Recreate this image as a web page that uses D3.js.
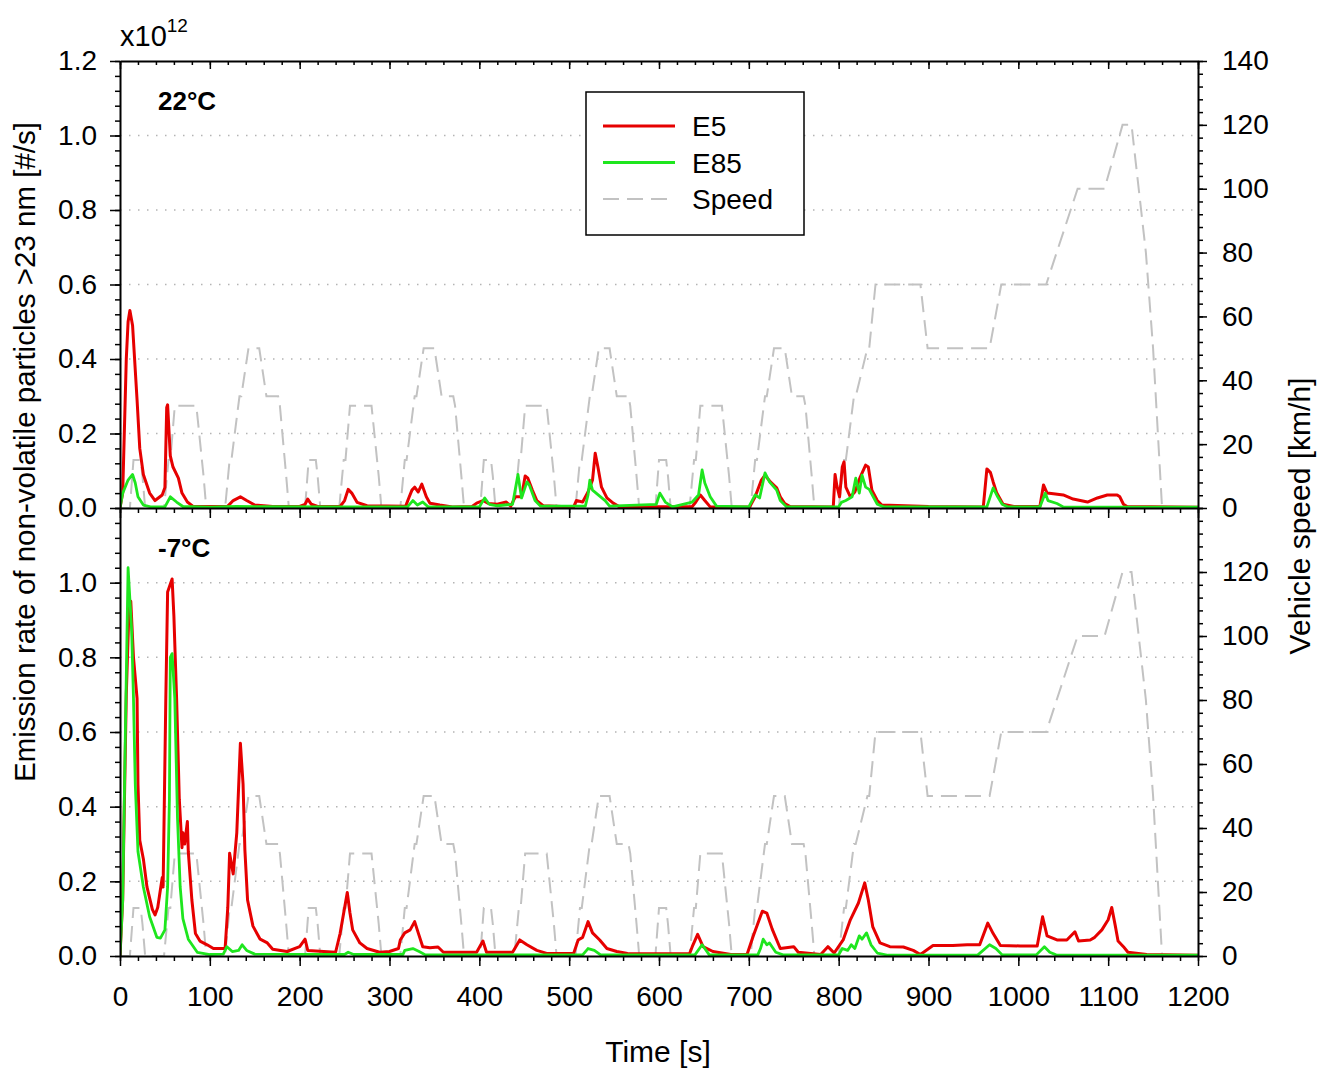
<!DOCTYPE html>
<html>
<head>
<meta charset="utf-8">
<script src="https://cdn.jsdelivr.net/npm/d3@7"></script>
<style>
	body { margin: 0; background: #fff; }
	text { font-family: "Liberation Sans", Arial, sans-serif; }
</style>
</head>
<body>
<div id="chart"></div>
<script>

// axis ticks
let timeTicks = [0, 100, 200, 300, 400, 500, 600, 700, 800, 900, 1000, 1100, 1200];
let rateTicksWarm = [0, 0.2, 0.4, 0.6, 0.8, 1.0, 1.2];
let rateTicksCold = [0, 0.2, 0.4, 0.6, 0.8, 1.0];
let speedTicksWarm = [0, 20, 40, 60, 80, 100, 120, 140];
let speedTicksCold = [0, 20, 40, 60, 80, 100, 120];
let gridTicks = [0.2, 0.4, 0.6, 0.8, 1.0];

// vehicle speed [km/h] over time [s]
let speedProfile = [
	[0, 0], [11, 0], [15, 15], [23, 15], [25, 10], [28, 0], [49, 0], [54, 15], [56, 15], [61, 32], [85, 32], [93, 10], [96, 0],
	[117, 0], [122, 15], [124, 15], [133, 35], [135, 35], [143, 50], [155, 50], [163, 35], [176, 35], [178, 32], [185, 10], [188, 0],
	[206, 0], [210, 15], [218, 15], [220, 10], [223, 0], [244, 0], [249, 15], [251, 15], [256, 32], [280, 32], [288, 10], [291, 0],
	[312, 0], [317, 15], [319, 15], [328, 35], [330, 35], [338, 50], [350, 50], [358, 35], [371, 35], [373, 32], [380, 10], [383, 0],
	[401, 0], [405, 15], [413, 15], [415, 10], [418, 0], [439, 0], [444, 15], [446, 15], [451, 32], [475, 32], [483, 10], [486, 0],
	[507, 0], [512, 15], [514, 15], [523, 35], [525, 35], [533, 50], [545, 50], [553, 35], [566, 35], [568, 32], [575, 10], [578, 0],
	[596, 0], [600, 15], [608, 15], [610, 10], [613, 0], [634, 0], [639, 15], [641, 15], [646, 32], [670, 32], [678, 10], [681, 0],
	[702, 0], [707, 15], [709, 15], [718, 35], [720, 35], [728, 50], [740, 50], [748, 35], [761, 35], [763, 32], [770, 10], [773, 0],
	[800, 0], [806, 15], [808, 15], [817, 35], [819, 35], [832, 50], [834, 50], [841, 70], [891, 70], [899, 50], [968, 50], [981, 70],
	[1031, 70], [1066, 100], [1096, 100], [1116, 120], [1126, 120], [1142, 80], [1150, 50], [1160, 0], [1180, 0]
];

// emission rate [1e12 #/s], 22°C
let e5Warm = [
	[0, 0], [3, 0.04], [7, 0.40], [9, 0.50], [11, 0.53], [14, 0.49], [19, 0.29], [22, 0.16], [26, 0.09], [33, 0.04], [39, 0.02],
	[47, 0.035], [50, 0.055], [52, 0.27], [53, 0.277], [56, 0.14], [59, 0.11], [65, 0.08], [69, 0.04], [75, 0.016], [81, 0.005],
	[100, 0.004], [120, 0.005], [126, 0.02], [134, 0.03], [141, 0.02], [150, 0.008], [170, 0.004], [200, 0.004], [206, 0.01],
	[209, 0.024], [213, 0.01], [220, 0.004], [245, 0.004], [250, 0.02], [254, 0.05], [258, 0.04], [264, 0.015], [275, 0.006],
	[318, 0.005], [322, 0.03], [325, 0.048], [328, 0.056], [332, 0.043], [336, 0.064], [341, 0.03], [345, 0.013], [356, 0.008],
	[370, 0.003], [392, 0.004], [397, 0.013], [404, 0.02], [410, 0.012], [420, 0.01], [430, 0.016], [435, 0.005], [440, 0.03],
	[447, 0.03], [451, 0.086], [454, 0.08], [459, 0.048], [464, 0.02], [471, 0.006], [505, 0.003], [508, 0.02], [515, 0.016],
	[521, 0.043], [526, 0.075], [529, 0.147], [532, 0.11], [536, 0.056], [542, 0.027], [549, 0.013], [556, 0.003], [637, 0.004],
	[641, 0.016], [646, 0.035], [651, 0.02], [657, 0.003], [701, 0.003], [707, 0.03], [714, 0.075], [718, 0.088], [724, 0.07],
	[731, 0.054], [735, 0.03], [740, 0.012], [746, 0.004], [794, 0.003], [796, 0.09], [798, 0.06], [801, 0.03], [804, 0.11],
	[806, 0.124], [808, 0.056], [813, 0.03], [818, 0.043], [824, 0.083], [830, 0.115], [833, 0.11], [837, 0.048], [843, 0.02],
	[848, 0.008], [900, 0.004], [961, 0.003], [965, 0.105], [969, 0.095], [972, 0.07], [976, 0.04], [983, 0.01], [995, 0.004],
	[1024, 0.004], [1028, 0.062], [1032, 0.04], [1039, 0.038], [1050, 0.035], [1061, 0.024], [1077, 0.016], [1088, 0.027],
	[1099, 0.035], [1110, 0.035], [1113, 0.03], [1117, 0.01], [1121, 0.004], [1200, 0.002]
];

let e85Warm = [
	[0, 0], [3, 0.04], [9, 0.075], [14, 0.09], [17, 0.067], [20, 0.03], [26, 0.008], [34, 0.003], [50, 0.003], [56, 0.03],
	[63, 0.016], [70, 0.004], [100, 0.002], [130, 0.004], [250, 0.003], [320, 0.003], [326, 0.02], [331, 0.008], [337, 0.016],
	[343, 0.003], [400, 0.003], [406, 0.027], [411, 0.01], [420, 0.006], [437, 0.01], [443, 0.09], [447, 0.027], [453, 0.07],
	[456, 0.06], [462, 0.02], [468, 0.005], [518, 0.005], [521, 0.035], [523, 0.075], [526, 0.048], [534, 0.032], [540, 0.02],
	[545, 0.005], [597, 0.01], [601, 0.04], [607, 0.016], [615, 0.003], [637, 0.016], [644, 0.035], [648, 0.102], [651, 0.067],
	[657, 0.03], [664, 0.005], [700, 0.003], [707, 0.035], [712, 0.027], [718, 0.094], [723, 0.07], [731, 0.048], [735, 0.02],
	[742, 0.003], [800, 0.003], [803, 0.015], [808, 0.02], [815, 0.03], [819, 0.08], [823, 0.04], [826, 0.088], [830, 0.056],
	[834, 0.05], [843, 0.01], [850, 0.003], [965, 0.003], [972, 0.054], [977, 0.03], [982, 0.01], [988, 0.003], [1024, 0.003],
	[1030, 0.04], [1033, 0.02], [1043, 0.012], [1050, 0.003], [1200, 0.002]
];

// emission rate [1e12 #/s], -7°C
let e5Cold = [
	[0, 0], [3, 0.15], [7, 0.70], [10, 0.93], [12, 0.95], [15, 0.80], [19, 0.69], [20, 0.46], [22, 0.31], [26, 0.26], [30, 0.185],
	[36, 0.125], [39, 0.11], [42, 0.13], [45, 0.178], [47, 0.21], [48, 0.185], [51, 0.69], [53, 0.975], [58, 1.01], [60, 0.91],
	[63, 0.69], [66, 0.42], [69, 0.29], [70, 0.33], [72, 0.30], [75, 0.36], [76, 0.28], [80, 0.15], [84, 0.06], [89, 0.04],
	[97, 0.03], [104, 0.02], [117, 0.02], [120, 0.13], [122, 0.275], [126, 0.22], [130, 0.33], [134, 0.57], [137, 0.46],
	[139, 0.285], [142, 0.15], [148, 0.08], [156, 0.045], [164, 0.035], [170, 0.018], [186, 0.012], [200, 0.025], [206, 0.045],
	[209, 0.015], [240, 0.01], [245, 0.06], [253, 0.17], [256, 0.115], [259, 0.07], [267, 0.035], [275, 0.02], [289, 0.01],
	[300, 0.012], [310, 0.02], [312, 0.043], [317, 0.062], [323, 0.07], [328, 0.092], [332, 0.062], [337, 0.025], [345, 0.022],
	[354, 0.024], [360, 0.01], [397, 0.01], [404, 0.04], [408, 0.01], [437, 0.01], [445, 0.043], [453, 0.03], [464, 0.015],
	[475, 0.007], [505, 0.007], [510, 0.043], [515, 0.05], [521, 0.092], [526, 0.062], [534, 0.043], [542, 0.02], [553, 0.012],
	[565, 0.007], [634, 0.006], [637, 0.025], [643, 0.058], [649, 0.025], [660, 0.012], [680, 0.004], [698, 0.004], [705, 0.054],
	[715, 0.12], [720, 0.115], [726, 0.072], [735, 0.02], [750, 0.025], [755, 0.01], [780, 0.004], [788, 0.025], [795, 0.008],
	[805, 0.043], [813, 0.097], [822, 0.142], [829, 0.196], [833, 0.15], [838, 0.078], [846, 0.035], [857, 0.025], [872, 0.024],
	[883, 0.015], [891, 0.004], [905, 0.028], [927, 0.028], [943, 0.03], [957, 0.03], [966, 0.088], [972, 0.06], [980, 0.028],
	[1002, 0.027], [1021, 0.027], [1027, 0.105], [1032, 0.054], [1043, 0.043], [1054, 0.043], [1063, 0.065], [1067, 0.04],
	[1080, 0.043], [1085, 0.05], [1093, 0.07], [1100, 0.097], [1104, 0.13], [1108, 0.08], [1111, 0.04], [1117, 0.025],
	[1122, 0.01], [1143, 0.004], [1200, 0.002]
];

let e85Cold = [
	[0, 0], [3, 0.15], [6, 0.60], [9, 1.04], [13, 0.87], [15, 0.69], [17, 0.46], [20, 0.28], [26, 0.185], [33, 0.105], [41, 0.05],
	[45, 0.048], [50, 0.07], [53, 0.185], [55, 0.42], [56, 0.80], [58, 0.81], [60, 0.73], [61, 0.69], [64, 0.37], [67, 0.185],
	[70, 0.10], [76, 0.045], [86, 0.01], [100, 0.004], [115, 0.005], [119, 0.025], [125, 0.012], [132, 0.015], [136, 0.03],
	[141, 0.015], [150, 0.005], [250, 0.004], [254, 0.01], [260, 0.004], [315, 0.004], [317, 0.015], [326, 0.02], [333, 0.012],
	[340, 0.003], [515, 0.003], [521, 0.02], [528, 0.015], [535, 0.003], [640, 0.003], [648, 0.03], [656, 0.003], [710, 0.003],
	[713, 0.02], [716, 0.045], [720, 0.03], [723, 0.035], [730, 0.01], [738, 0.003], [800, 0.003], [804, 0.02], [810, 0.015],
	[814, 0.03], [818, 0.02], [823, 0.054], [826, 0.045], [831, 0.062], [836, 0.03], [843, 0.008], [855, 0.002], [955, 0.003],
	[968, 0.03], [975, 0.02], [982, 0.003], [1020, 0.003], [1029, 0.025], [1035, 0.01], [1042, 0.003], [1200, 0.002]
];

let legendNames = ["E5", "E85", "Speed"];

// colours
let colorE5 = "#e60000",
	colorE85 = "#1ee61e",
	colorSpeed = "#c2c2c2";

let width = 1319,
	height = 1068;

let svg = d3.select("#chart")
	.append("svg")
	.attr("width", width)
	.attr("height", height)
	.style("background", "#fff");

let x = d3.scaleLinear()
	.domain([0, 1200])
	.range([120, 1198]);

let panels = [
	{ name: "22°C", e5: e5Warm, e85: e85Warm, top: 61, bottom: 508, rateTicks: rateTicksWarm, speedTicks: speedTicksWarm, labelY: 110 },
	{ name: "-7°C", e5: e5Cold, e85: e85Cold, top: 508, bottom: 956, rateTicks: rateTicksCold, speedTicks: speedTicksCold, labelY: 557 }
];

panels.forEach(drawPanel);

// draws one temperature panel
function drawPanel(p, i) {

	let y = d3.scaleLinear().domain([0, 1.2]).range([p.bottom, p.top]);
	let s = d3.scaleLinear().domain([0, 140]).range([p.bottom, p.top]);

	// dotted grid
	svg.append("g")
		.selectAll("line")
		.data(gridTicks)
		.enter().append("line")
		.attr("x1", x(0))
		.attr("x2", x(1200))
		.attr("y1", d => y(d))
		.attr("y2", d => y(d))
		.attr("stroke", "#b4b4b4")
		.attr("stroke-width", 1.5)
		.attr("stroke-dasharray", "1.5,7.5");

	svg.append("clipPath")
		.attr("id", "clip" + i)
		.append("rect")
		.attr("x", x(0))
		.attr("y", p.top)
		.attr("width", x(1200) - x(0))
		.attr("height", p.bottom - p.top);

	let plot = svg.append("g").attr("clip-path", "url(#clip" + i + ")");

	let speedLine = d3.line().x(d => x(d[0])).y(d => s(d[1]));
	let rateLine = d3.line().x(d => x(d[0])).y(d => y(d[1]));

	plot.append("path")
		.datum(speedProfile)
		.attr("d", speedLine)
		.attr("fill", "none")
		.attr("stroke", colorSpeed)
		.attr("stroke-width", 2)
		.attr("stroke-dasharray", "16,8");

	plot.append("path")
		.datum(p.e5)
		.attr("d", rateLine)
		.attr("fill", "none")
		.attr("stroke", colorE5)
		.attr("stroke-width", 3)
		.attr("stroke-linejoin", "round");

	plot.append("path")
		.datum(p.e85)
		.attr("d", rateLine)
		.attr("fill", "none")
		.attr("stroke", colorE85)
		.attr("stroke-width", 2.8)
		.attr("stroke-linejoin", "round");

	// left axis
	let left = svg.append("g")
		.attr("transform", "translate(" + x(0) + ",0)")
		.call(d3.axisLeft(y).tickValues(p.rateTicks).tickSize(10).tickSizeOuter(0).tickPadding(13).tickFormat(d3.format(".1f")));
	styleAxis(left);

	let leftMinor = svg.append("g")
		.attr("transform", "translate(" + x(0) + ",0)")
		.call(d3.axisLeft(y).tickValues(d3.range(0, 1.21, 0.04)).tickSize(5).tickFormat(""));
	leftMinor.select(".domain").remove();
	styleAxis(leftMinor);

	// right axis
	let right = svg.append("g")
		.attr("transform", "translate(" + x(1200) + ",0)")
		.call(d3.axisRight(s).tickValues(p.speedTicks).tickSize(9).tickSizeOuter(0).tickPadding(15));
	styleAxis(right);

	let rightMinor = svg.append("g")
		.attr("transform", "translate(" + x(1200) + ",0)")
		.call(d3.axisRight(s).tickValues(d3.range(0, 141, 4)).tickSize(5).tickFormat(""));
	rightMinor.select(".domain").remove();
	styleAxis(rightMinor);

	// panel label
	svg.append("text")
		.attr("x", 158)
		.attr("y", p.labelY)
		.style("font-size", "26px")
		.attr("font-weight", "bold")
		.text(p.name);
}

// horizontal axes: top edge, shared middle edge, bottom edge
[61, 508, 956].forEach(function (yy, k) {
	let major = k == 0 ? 8 : 10,
		minor = k == 0 ? 4 : 5;

	let ax = svg.append("g")
		.attr("transform", "translate(0," + yy + ")")
		.call(d3.axisBottom(x).tickValues(timeTicks).tickSize(major).tickSizeOuter(0).tickPadding(20)
			.tickFormat(k == 2 ? d3.format("d") : ""));
	styleAxis(ax);

	let axMinor = svg.append("g")
		.attr("transform", "translate(0," + yy + ")")
		.call(d3.axisBottom(x).tickValues(d3.range(0, 1201, 20)).tickSize(minor).tickFormat(""));
	axMinor.select(".domain").remove();
	styleAxis(axMinor);
});

function styleAxis(g) {
	g.select(".domain").attr("stroke", "#000").attr("stroke-width", 2);
	g.selectAll(".tick line").attr("stroke", "#000").attr("stroke-width", 1.5);
	g.selectAll(".tick text").attr("fill", "#000").style("font-size", "28px")
		.style("font-family", "'Liberation Sans', Arial, sans-serif");
}

// multiplier
let mult = svg.append("text")
	.attr("x", 120)
	.attr("y", 46)
	.style("font-size", "29px");
mult.append("tspan").text("x10");
mult.append("tspan").attr("dy", -14).style("font-size", "19px").text("12");

// axis titles
svg.append("text")
	.attr("transform", "translate(35,452) rotate(-90)")
	.attr("text-anchor", "middle")
	.style("font-size", "29.5px")
	.text("Emission rate of non-volatile particles >23 nm [#/s]");

svg.append("text")
	.attr("transform", "translate(1310,516) rotate(-90)")
	.attr("text-anchor", "middle")
	.style("font-size", "30px")
	.text("Vehicle speed [km/h]");

svg.append("text")
	.attr("x", 658)
	.attr("y", 1062)
	.attr("text-anchor", "middle")
	.style("font-size", "30px")
	.text("Time [s]");

// legend
let legend = svg.append("g");

legend.append("rect")
	.attr("x", 586)
	.attr("y", 92)
	.attr("width", 218)
	.attr("height", 143)
	.attr("fill", "#fff")
	.attr("stroke", "#000")
	.attr("stroke-width", 1.5);

let legendColors = [colorE5, colorE85, colorSpeed];
let legendY = d3.scalePoint().domain(legendNames).range([126, 199]);

legend.selectAll(".key")
	.data(legendNames)
	.enter().append("line")
	.attr("x1", 603)
	.attr("x2", 675)
	.attr("y1", d => legendY(d))
	.attr("y2", d => legendY(d))
	.attr("stroke", (d, j) => legendColors[j])
	.attr("stroke-width", (d, j) => j == 2 ? 2 : 3)
	.attr("stroke-dasharray", (d, j) => j == 2 ? "16,8" : null);

legend.selectAll(".name")
	.data(legendNames)
	.enter().append("text")
	.attr("x", 692)
	.attr("y", d => legendY(d))
	.attr("dy", "0.36em")
	.style("font-size", "28px")
	.text(d => d);

</script>
</body>
</html>
